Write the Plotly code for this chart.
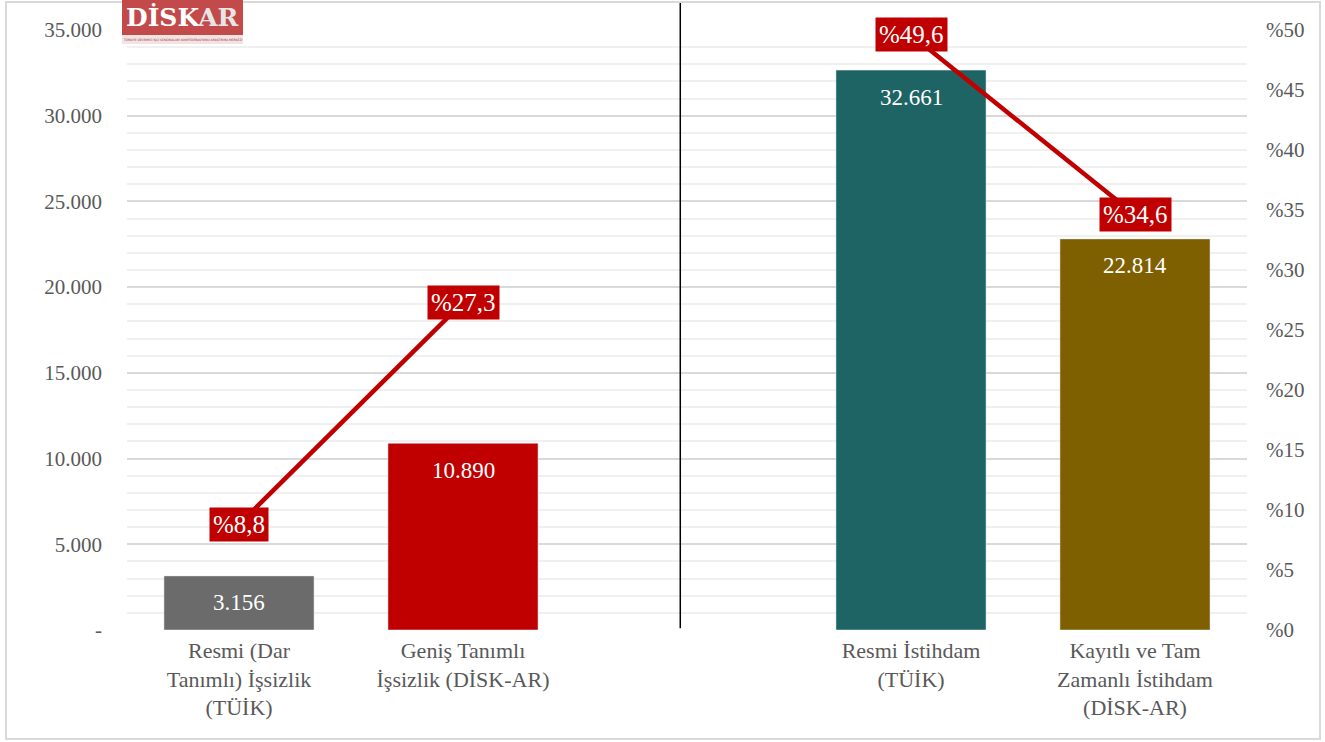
import plotly.graph_objects as go

categories = ["Resmi (Dar<br>Tanımlı) İşsizlik<br>(TÜİK)",
              "Geniş Tanımlı<br>İşsizlik (DİSK-AR)",
              "",
              "Resmi İstihdam<br>(TÜİK)",
              "Kayıtlı ve Tam<br>Zamanlı İstihdam<br>(DİSK-AR)"]
values = [3156, 10890, None, 32661, 22814]
percents = [8.8, 27.3, None, 49.6, 34.6]
bar_colors = ["#6b6b6b", "#c00000", "#ffffff", "#1f6464", "#7f6000"]
left_ticks = [0, 5000, 10000, 15000, 20000, 25000, 30000, 35000]
left_tick_labels = ["-", "5.000", "10.000", "15.000", "20.000", "25.000", "30.000", "35.000"]
right_ticks = [0, 5, 10, 15, 20, 25, 30, 35, 40, 45, 50]
right_tick_labels = ["%" + str(v) for v in right_ticks]

FONT = "Liberation Serif, serif"
xs = list(range(len(categories)))

def fmt(v):
    return "" if v is None else f"{v:,}".replace(",", ".")

fig = go.Figure()
fig.add_trace(go.Bar(
    x=xs, y=values, marker_color=bar_colors, width=0.67,
    showlegend=False, hoverinfo="skip"))
fig.add_trace(go.Scatter(
    x=xs, y=percents, yaxis="y2", mode="lines",
    line=dict(color="#c00000", width=4.5), connectgaps=False,
    showlegend=False, hoverinfo="skip"))

for x, v in zip(xs, values):
    if v is None:
        continue
    fig.add_annotation(x=x, y=v, xref="x", yref="y", text=fmt(v),
                       showarrow=False, yshift=-27, yanchor="middle",
                       font=dict(family=FONT, size=23, color="white"))

for x, p in zip(xs, percents):
    if p is None:
        continue
    fig.add_annotation(x=x, y=p, yref="y2", xref="x",
                       text="%" + f"{p}".replace(".", ","), showarrow=False,
                       yanchor="middle",
                       font=dict(family=FONT, size=25, color="white"),
                       bgcolor="#c00000", borderpad=3)

# divider line
fig.add_shape(type="line", xref="x", yref="paper", x0=1.97, x1=1.97,
              y0=0.003, y1=1.045, line=dict(color="black", width=1.5))

# outer border
def px(x):
    return (x - 127) / 1120
def py(y):
    return (630 - y) / 600
fig.add_shape(type="rect", xref="paper", yref="paper",
              x0=px(6), x1=px(1320), y0=py(739), y1=py(2),
              line=dict(color="#d9d9d9", width=2), layer="below")

# logo
fig.add_shape(type="rect", xref="paper", yref="paper",
              x0=px(122), x1=px(243), y0=py(35), y1=py(0),
              fillcolor="#c24a4a", line=dict(width=0), layer="above")
fig.add_shape(type="rect", xref="paper", yref="paper",
              x0=px(122), x1=px(243), y0=py(44), y1=py(35),
              fillcolor="#f0e4e4", line=dict(width=0), layer="above")
fig.add_annotation(xref="paper", yref="paper", x=px(182), y=py(18),
                   xanchor="center", yanchor="middle",
                   text="<b>DİSK<span style='color:#e6e6e6'>AR</span></b>",
                   showarrow=False, font=dict(family="DejaVu Serif", size=25, color="white"))
fig.add_annotation(xref="paper", yref="paper", x=px(182), y=py(39.5),
                   xanchor="center", yanchor="middle",
                   text="TÜRKİYE DEVRİMCİ İŞÇİ SENDİKALARI KONFEDERASYONU ARAŞTIRMA MERKEZİ",
                   showarrow=False, font=dict(family="DejaVu Sans", size=3, color="#b03030"))

fig.update_layout(
    width=1325, height=742,
    margin=dict(l=127, r=78, t=30, b=112),
    paper_bgcolor="white", plot_bgcolor="white",
    font=dict(family=FONT, color="#595959"),
    xaxis=dict(tickmode="array", tickvals=xs, ticktext=categories,
               range=[-0.5, 4.5], showgrid=False, zeroline=False,
               showline=False, ticks="", ticklabelstandoff=5,
               tickfont=dict(family=FONT, size=22, color="#595959")),
    yaxis=dict(range=[0, 35000], tickmode="array", tickvals=left_ticks,
               ticktext=left_tick_labels, showgrid=True, gridcolor="#d9d9d9",
               gridwidth=1.5, zeroline=False, ticks="", ticklabelstandoff=24,
               tickfont=dict(family=FONT, size=21, color="#595959"),
               minor=dict(dtick=1000, showgrid=True, gridcolor="#f0f0f0", gridwidth=1.5)),
    yaxis2=dict(range=[0, 50], overlaying="y", side="right", tickmode="array",
                tickvals=right_ticks, ticktext=right_tick_labels, showgrid=False,
                zeroline=False, ticks="", ticklabelstandoff=18,
                tickfont=dict(family=FONT, size=21, color="#595959")),
)

fig.write_html("out.html", config={"displayModeBar": False},
               post_script="document.body.style.margin='0';")
